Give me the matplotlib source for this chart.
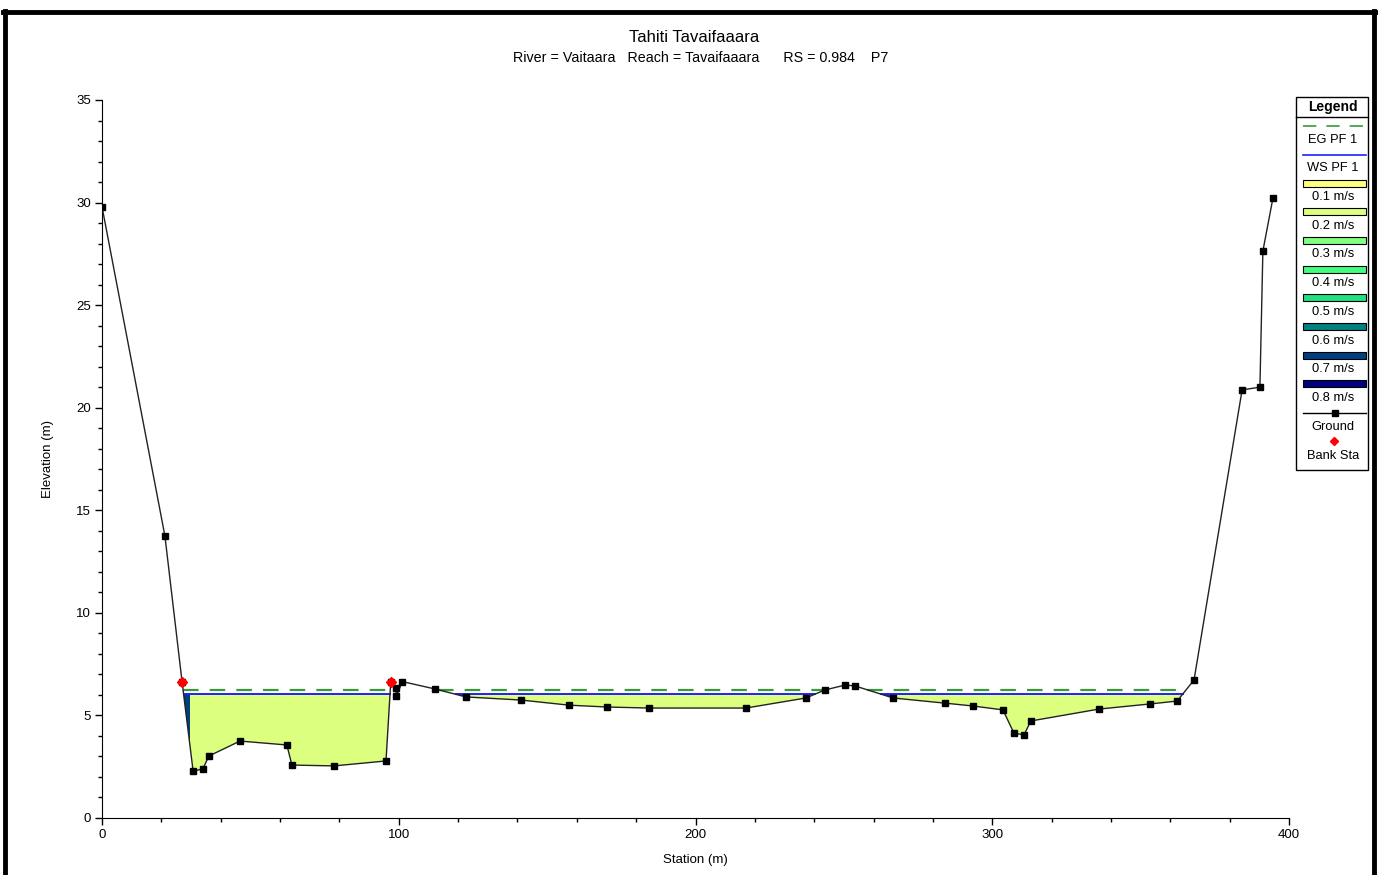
import numpy as np
import matplotlib
matplotlib.use("Agg")
import matplotlib.pyplot as plt
from matplotlib.path import Path
from matplotlib.ticker import MultipleLocator

plt.rcParams['font.family'] = ['Liberation Sans', 'DejaVu Sans']

station = [0.0, 21.2, 27.0, 30.7, 34.0, 36.0, 46.5, 62.3, 64.0, 78.2, 95.7, 97.3,
           99.0, 99.2, 101.2, 112.2, 122.7, 141.2, 157.4, 170.2, 184.3, 217.0,
           237.2, 243.6, 250.4, 253.7, 266.6, 284.0, 293.5, 303.6, 307.3, 310.7,
           313.0, 336.0, 353.2, 362.3, 368.0, 384.2, 390.2, 391.2, 394.6]
elev = [29.8, 13.75, 6.62, 2.29, 2.39, 3.02, 3.75, 3.56, 2.58, 2.54, 2.78, 6.62,
        6.35, 5.95, 6.65, 6.29, 5.9, 5.75, 5.5, 5.41, 5.36, 5.36,
        5.85, 6.24, 6.48, 6.44, 5.85, 5.6, 5.46, 5.27, 4.14, 4.05,
        4.73, 5.31, 5.56, 5.7, 6.73, 20.87, 21.0, 27.64, 30.23]
bank_sta = [27.0, 97.3]
bank_elev = [6.62, 6.62]
ws_pf1 = 6.03
eg_pf1 = 6.25

vel_labels = ['0.1 m/s', '0.2 m/s', '0.3 m/s', '0.4 m/s', '0.5 m/s', '0.6 m/s', '0.7 m/s', '0.8 m/s']
vel_colors = ['#FFFF80', '#DCFF80', '#80FF80', '#40FF80', '#20E080', '#008080', '#004080', '#000080']

# zones de vitesse (debut, fin, indice couleur) ; le reste est a 0.2 m/s
zones_x0 = [26.0, 116.0, 261.0]
zones_x1 = [29.8, 121.5, 266.0]
zones_c = [6, 6, 6]

title = 'Tahiti Tavaifaaara'
subtitle = 'River = Vaitaara   Reach = Tavaifaaara      RS = 0.984    P7'

gx = np.array(station)
gy = np.array(elev)


def wet_spans(level):
    # intervalles ou le terrain est sous le niveau
    spans = []
    start = None
    for i in range(len(gx)):
        wet = gy[i] < level
        if wet and start is None:
            if i == 0:
                start = gx[0]
            else:
                t = (gy[i-1] - level) / (gy[i-1] - gy[i])
                start = gx[i-1] + t * (gx[i] - gx[i-1])
        if not wet and start is not None:
            t = (gy[i-1] - level) / (gy[i-1] - gy[i])
            spans.append((start, gx[i-1] + t * (gx[i] - gx[i-1])))
            start = None
    return spans


W, H = 1378, 875
fig = plt.figure(figsize=(W/100, H/100), dpi=100)
ax = fig.add_axes([102/W, 1-818/H, (1289-102)/W, (818-100)/H])

water = ax.fill_between(gx, gy, ws_pf1, where=gy < ws_pf1, interpolate=True,
                        facecolor=vel_colors[1], edgecolor='none', zorder=1)
clip = Path.make_compound_path(*water.get_paths())
for x0, x1, c in zip(zones_x0, zones_x1, zones_c):
    r = ax.axvspan(x0, x1, facecolor=vel_colors[c], edgecolor='none', zorder=1.5)
    r.set_clip_path(clip, ax.transData)

for a, b in wet_spans(eg_pf1):
    ax.plot([a, b], [eg_pf1, eg_pf1], color='#3A9A3A', lw=1.6, dashes=(7, 5), zorder=2)
for a, b in wet_spans(ws_pf1):
    ax.plot([a, b], [ws_pf1, ws_pf1], color='#2020FF', lw=1.4, zorder=2)

ax.plot(gx, gy, color='#222222', lw=1.0, marker='s', ms=4.8, mfc='black', mec='black', zorder=3)
ax.plot(bank_sta, bank_elev, 'D', color='#FF0000', ms=5, zorder=4, ls='none')

ax.set_xlim(0, 400)
ax.set_ylim(0, 35)
ax.spines['top'].set_visible(False)
ax.spines['right'].set_visible(False)
ax.xaxis.set_major_locator(MultipleLocator(100))
ax.xaxis.set_minor_locator(MultipleLocator(20))
ax.yaxis.set_major_locator(MultipleLocator(5))
ax.yaxis.set_minor_locator(MultipleLocator(1))
ax.tick_params(which='major', length=5, width=1, labelsize=9.5, pad=3)
ax.tick_params(which='minor', length=3, width=1)
ax.set_xlabel('Station (m)', fontsize=9.5, labelpad=9)
ax.set_ylabel('Elevation (m)', fontsize=9.5, labelpad=16)

fig.text(694/W, 1-37/H, title, ha='center', va='center', fontsize=12)
fig.text(701/W, 1-58/H, subtitle, ha='center', va='center', fontsize=10.3)

# legende et cadre dessines en pixels
ov = fig.add_axes([0, 0, 1, 1], facecolor='none')
ov.set_xlim(0, W)
ov.set_ylim(H, 0)
ov.axis('off')

ov.plot([5, 5], [11, 875], color='black', lw=3.5)
ov.plot([1374, 1374], [11, 875], color='black', lw=3.5)
ov.plot([3, 1376], [11.5, 11.5], color='black', lw=3.5)

ov.add_patch(plt.Rectangle((1296, 97), 72, 373, facecolor='white', edgecolor='black', lw=1))
ov.plot([1296, 1368], [117, 117], color='black', lw=1)
ov.text(1333, 107, 'Legend', ha='center', va='center', fontsize=10, fontweight='bold')
ov.plot([1303, 1366], [126, 126], color='#3A9A3A', lw=1.2, dashes=(8, 6))
ov.text(1333, 140, 'EG PF 1', ha='center', va='center', fontsize=9.3)
ov.plot([1303, 1366], [155, 155], color='#2020FF', lw=1.2)
ov.text(1333, 168, 'WS PF 1', ha='center', va='center', fontsize=9.3)
for i, (lab, col) in enumerate(zip(vel_labels, vel_colors)):
    y = 183 + i * 28.7
    ov.add_patch(plt.Rectangle((1303, y - 3.5), 63, 7, facecolor=col, edgecolor='black', lw=0.8))
    ov.text(1333, y + 14, lab, ha='center', va='center', fontsize=9.3)
ov.plot([1303, 1366], [413, 413], color='black', lw=1)
ov.plot([1335], [413], 's', color='black', ms=4)
ov.text(1333, 427, 'Ground', ha='center', va='center', fontsize=9.3)
ov.plot([1334], [441], 'D', color='#FF0000', ms=4.5)
ov.text(1333, 456, 'Bank Sta', ha='center', va='center', fontsize=9.3)

fig.savefig('out.png', dpi=100)
